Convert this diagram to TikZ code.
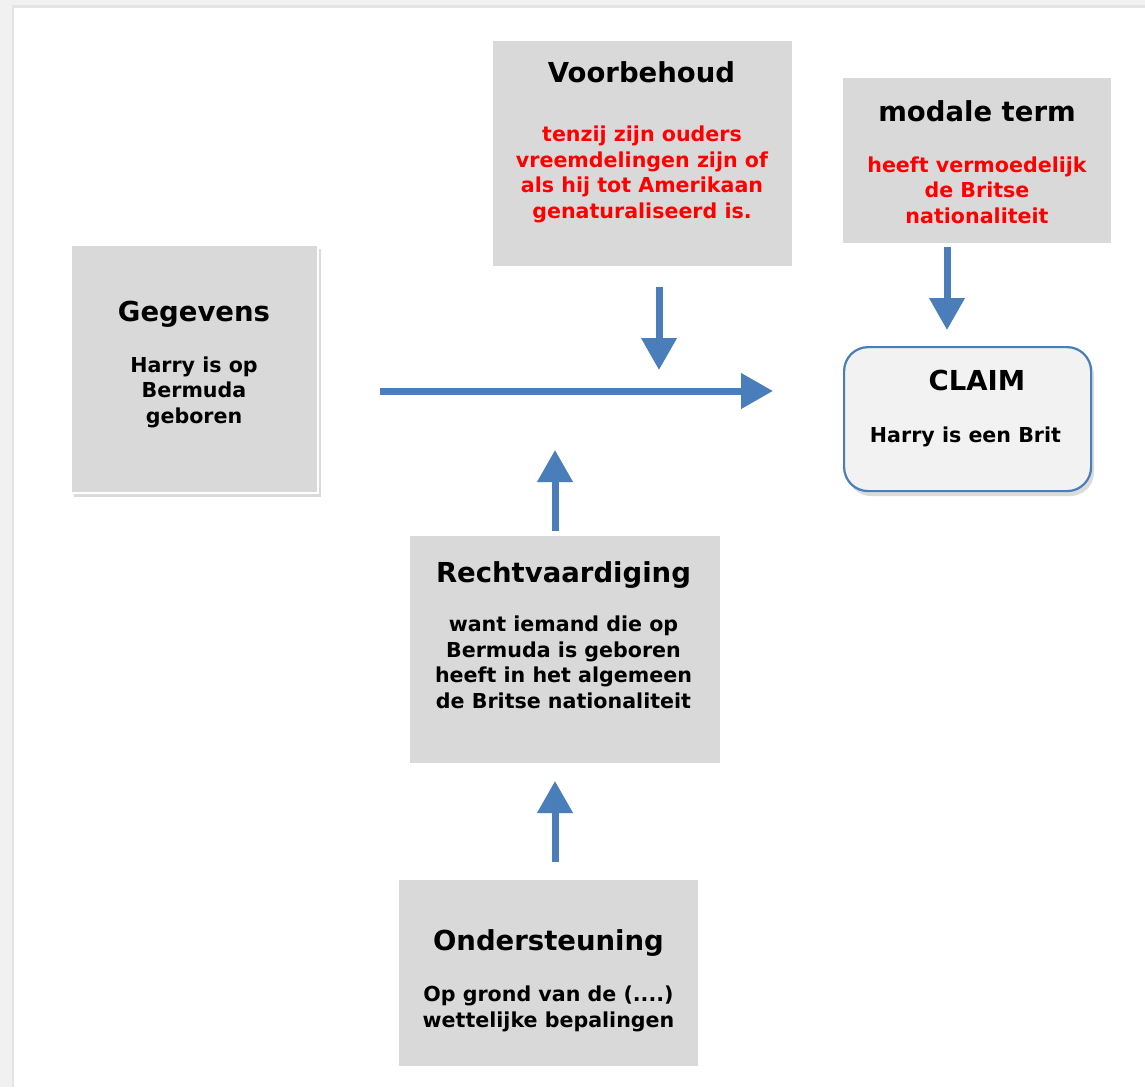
\documentclass[tikz,border=0pt]{standalone}
\usepackage{fontspec}
\setmainfont{DejaVu Sans}
\usetikzlibrary{arrows.meta,shadows}
\definecolor{boxgray}{HTML}{D9D9D9}
\definecolor{arrblue}{HTML}{4A7EBB}
\definecolor{claimfill}{HTML}{F2F2F2}
\definecolor{framegray}{HTML}{F1F1F1}
\definecolor{edgegray}{HTML}{E4E4E4}
\definecolor{txtred}{HTML}{FF0000}
\begin{document}
\begin{tikzpicture}[x=1pt,y=-1pt,
  graybox/.style={fill=boxgray, draw=none, inner sep=0, anchor=north west},
  ttl/.style={font=\fontsize{27.5}{30}\selectfont\bfseries, anchor=base, inner sep=0},
  bdy/.style={font=\fontsize{20.6}{25.4}\selectfont\bfseries, anchor=base, inner sep=0, align=center},
  arr/.style={line width=7pt, draw=arrblue, -{Triangle[width=34pt,length=32pt]}},
  arrsh/.style={line width=7pt, draw=black, opacity=0.13, -{Triangle[width=34pt,length=32pt]}}
]
% page frame
\useasboundingbox (0,0) rectangle (1145,1087);
\fill[framegray] (0,0) rectangle (1145,1087);
\fill[edgegray] (12,5) rectangle (1145,1087);
\fill[white] (14,8) rectangle (1145,1087);

% boxes
\node[graybox, minimum width=247pt, minimum height=248pt, draw=white, line width=1.5pt,
      drop shadow={shadow xshift=3pt, shadow yshift=-4pt, opacity=0.28}] (geg) at (70,244) {};
\node[graybox, minimum width=299pt, minimum height=225pt] (voor) at (493,41) {};
\node[graybox, minimum width=268pt, minimum height=165pt] (modal) at (843,78) {};
\node[anchor=north west, inner sep=0, minimum width=247pt, minimum height=144pt,
      rounded corners=24pt, fill=claimfill, draw=arrblue, line width=2.2pt,
      drop shadow={shadow xshift=3pt, shadow yshift=-5pt, opacity=0.28}] (claim) at (843,346) {};
\node[graybox, minimum width=310pt, minimum height=227pt] (recht) at (410,536) {};
\node[graybox, minimum width=299pt, minimum height=186pt] (onder) at (399,880) {};

% texts (body nodes anchored at the baseline of their last line)
\node[ttl] (gegT) at (194,321) {Gegevens};
\node[bdy] (gegB) at (194,423) {Harry is op\\Bermuda\\geboren};

\node[ttl] (voorT) at (641.5,82) {Voorbehoud};
\node[bdy, text=txtred] (voorB) at (642,218) {tenzij zijn ouders\\vreemdelingen zijn of\\als hij tot Amerikaan\\genaturaliseerd is.};

\node[ttl] (modalT) at (977,121) {modale term};
\node[bdy, text=txtred] (modalB) at (977,223) {heeft vermoedelijk\\de Britse\\nationaliteit};

\node[ttl] (claimT) at (977,390) {CLAIM};
\node[bdy] (claimB) at (965.5,442) {Harry is een Brit};

\node[ttl] (rechtT) at (563.5,582) {Rechtvaardiging};
\node[bdy] (rechtB) at (563.5,708) {want iemand die op\\Bermuda is geboren\\heeft in het algemeen\\de Britse nationaliteit};

\node[ttl] (onderT) at (548.5,950) {Ondersteuning};
\node[bdy] (onderB) at (548.5,1027) {Op grond van de (....)\\wettelijke bepalingen};

% arrow end points
\coordinate (hS) at (380,391);
\coordinate (hE) at (773,391);
\coordinate (vS) at (659,287);
\coordinate (vE) at (659,370);
\coordinate (mS) at (947,247);
\coordinate (mE) at (947,330);
\coordinate (rS) at (555,531);
\coordinate (rE) at (555,450);
\coordinate (oS) at (555,862);
\coordinate (oE) at (555,781);

% arrow shadows
\begin{scope}[shift={(2,4)}]
\draw[arrsh] (hS) -- (hE);
\draw[arrsh] (vS) -- (vE);
\draw[arrsh] (mS) -- (mE);
\draw[arrsh] (rS) -- (rE);
\draw[arrsh] (oS) -- (oE);
\end{scope}
% arrows
\draw[arr] (hS) -- (hE);
\draw[arr] (vS) -- (vE);
\draw[arr] (mS) -- (mE);
\draw[arr] (rS) -- (rE);
\draw[arr] (oS) -- (oE);
\end{tikzpicture}
\end{document}
